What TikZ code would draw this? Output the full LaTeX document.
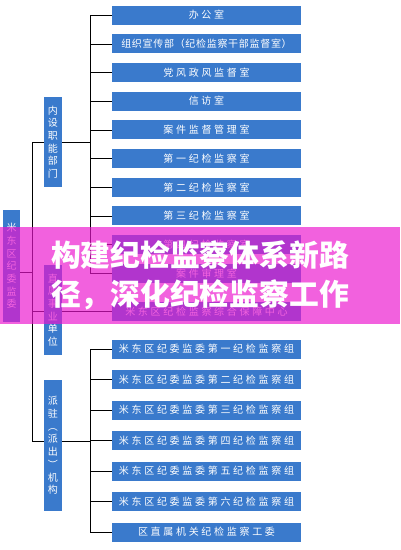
\documentclass[tikz,border=0pt]{standalone}
\usepackage{fontspec}
\newfontfamily\cjk{Noto Sans CJK SC}
\newfontfamily\cjkbox[LetterSpace=27]{Noto Sans CJK SC}
\newfontfamily\cjktight[LetterSpace=7]{Noto Sans CJK SC}
\usetikzlibrary{backgrounds}
\definecolor{boxblue}{RGB}{58,122,204}
\definecolor{bannerpink}{RGB}{236,20,206}
\tikzset{
  unit/.style={fill=boxblue, text=white, minimum width=189pt, minimum height=19pt,
    inner sep=0pt, font=\cjkbox\fontsize{10}{12}\selectfont},
  group/.style={fill=boxblue, text=white, minimum width=18pt, inner sep=0pt,
    align=center, font=\cjk\fontsize{10}{12.7}\selectfont},
  link/.style={line width=1pt},
  bannerbox/.style={fill=bannerpink, fill opacity=0.67, text opacity=1, text=white,
    minimum width=400pt, minimum height=97pt, inner sep=0pt, align=center,
    font=\cjk\bfseries\fontsize{29.8}{39}\selectfont}
}

\begin{document}
\begin{tikzpicture}[x=1pt,y=-1pt]
  \useasboundingbox (0,0) rectangle (400,550);

  \newcommand\Ytop{28.7}
  \newcommand\Ybot{30.5}

  %% trunks
  \coordinate (spine) at (32,0);
  \coordinate (trunkA) at (90,0);
  \coordinate (trunkB) at (90,0);

  %% units of the first group
  \foreach \t [count=\i] in {办公室, {\cjktight 组织宣传部（纪检监察干部监督室）},
      党风政风监督室, 信访室, 案件监督管理室, 第一纪检监察室, 第二纪检监察室,
      第三纪检监察室, 第四纪检监察室, 案件审理室}
    \node[unit] (n\i) at (206.5, {15+(\i-1)*\Ytop}) {\t};

  \node[unit] (centre) at (206.5, 311.5) {米东区纪检监察综合保障中心};

  %% units of the third group
  \foreach \t [count=\i] in {米东区纪委监委第一纪检监察组, 米东区纪委监委第二纪检监察组,
      米东区纪委监委第三纪检监察组, 米东区纪委监委第四纪检监察组,
      米东区纪委监委第五纪检监察组, 米东区纪委监委第六纪检监察组,
      {\cjktight\addfontfeature{LetterSpace=27} 区直属机关纪检监察工委}}
    \node[unit] (p\i) at (206.5, {349+(\i-1)*\Ybot}) {\t};

  %% group boxes
  \node[group, minimum height=90pt] (inner) at (53,142) {内\\设\\职\\能\\部\\门};
  \node[group, minimum height=90pt] (direct) at (53,310) {直\\属\\事\\业\\单\\位};
  \node[group, minimum height=131pt] (sent) at (53,445.5)
    {派\\驻\\︵\\派\\出\\︶\\机\\构};
  \node[group, minimum width=17pt, minimum height=112pt] (root) at (11.5,266)
    {米\\东\\区\\纪\\委\\监\\委};

  \begin{scope}[on background layer, link]
    \foreach \i in {1,...,10}
      \draw (n\i.west) -- (n\i.west -| trunkA);
    \draw (n1.west -| trunkA) -- (n10.west -| trunkA);
    \draw (inner.east) -- (inner.east -| trunkA);

    \foreach \i in {1,...,7}
      \draw (p\i.west) -- (p\i.west -| trunkB);
    \draw (p1.west -| trunkB) -- (p7.west -| trunkB);
    \draw ([yshift=4.5pt]sent.east) -- ([yshift=4.5pt]sent.east -| trunkB);

    \draw (inner.west) -- (inner.west -| spine) -- ([yshift=4.5pt]sent.west -| spine)
      -- ([yshift=4.5pt]sent.west);
    \draw ([yshift=-6pt]root.east) -- ([yshift=-6pt]root.east -| spine);
    \draw (centre.west -| spine) -- (centre.west);
  \end{scope}

  %% banner
  \node[bannerbox] (banner) at (200,275.5) {构建纪检监察体系新路\\径，深化纪检监察工作};

\end{tikzpicture}
\end{document}
